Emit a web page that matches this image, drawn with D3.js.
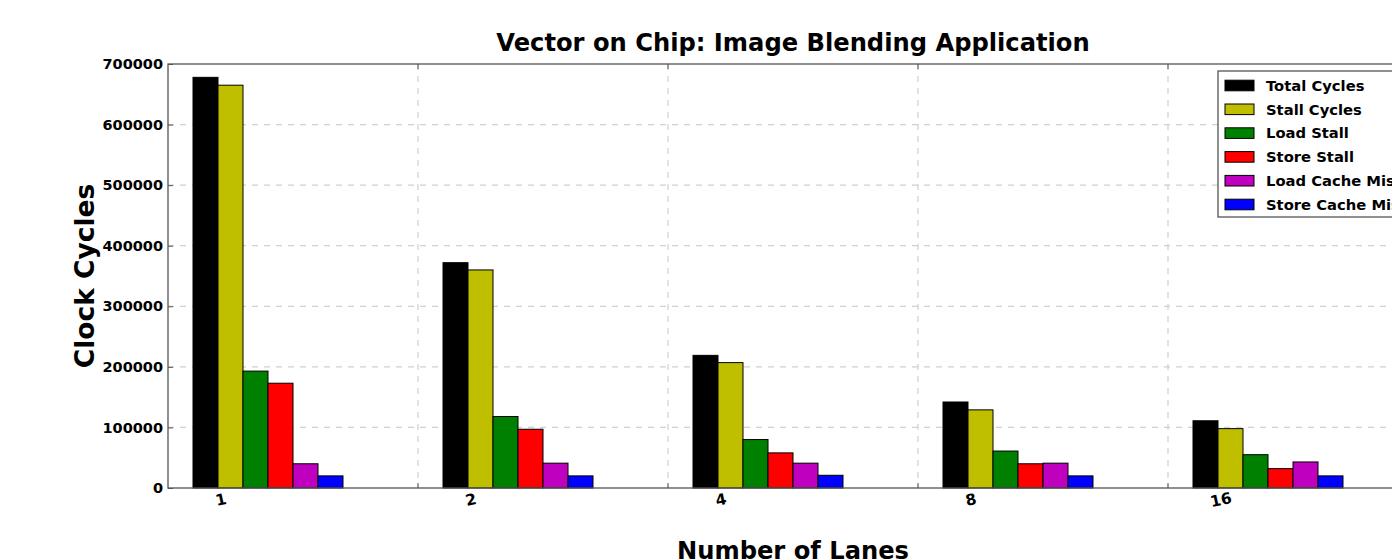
<!DOCTYPE html>
<html>
<head>
<meta charset="utf-8">
<script src="https://cdn.jsdelivr.net/npm/d3@7"></script>
<style>
  html, body { margin: 0; padding: 0; background: #fff; }
  svg text { font-family: "DejaVu Sans", sans-serif; font-weight: bold; }
</style>
</head>
<body>
<svg id="chart" width="1392" height="560"></svg>
<script>
// Lane counts along the x axis
const lanes = ["1", "2", "4", "8", "16"];
// Series names and fill colours
const seriesNames = ["Total Cycles", "Stall Cycles", "Load Stall", "Store Stall", "Load Cache Miss", "Store Cache Miss"];
const seriesColors = ["#000000", "#bfbf00", "#008000", "#ff0000", "#bf00bf", "#0000ff"];
// Cycle counts per lane count
const totalCycles     = [678000, 372000, 219000, 142000, 111000];
const stallCycles     = [665000, 360000, 207000, 129000,  98000];
const loadStall       = [193000, 118000,  80000,  61000,  55000];
const storeStall      = [173000,  97000,  58000,  40000,  32000];
const loadCacheMiss   = [ 40000,  41000,  41000,  41000,  43000];
const storeCacheMiss  = [ 20000,  20000,  21000,  20000,  20000];
const seriesValues = [totalCycles, stallCycles, loadStall, storeStall, loadCacheMiss, storeCacheMiss];
const yTicks = [0, 100000, 200000, 300000, 400000, 500000, 600000, 700000];

const svg = d3.select("#chart");
const plotLeft = 168, plotTop = 64, plotBottom = 488, plotRight = 1418;

const x = d3.scaleBand().domain(lanes).range([plotLeft, plotRight]).paddingInner(0).paddingOuter(0);
const xs = d3.scaleBand().domain(seriesNames).range([25, 175]).padding(0);
const y = d3.scaleLinear().domain([0, 700000]).range([plotBottom, plotTop]);

// grid
const grid = svg.append("g");
grid.selectAll("line.h").data(yTicks.slice(1, -1)).join("line")
  .attr("x1", plotLeft).attr("x2", plotRight)
  .attr("y1", d => y(d)).attr("y2", d => y(d))
  .attr("stroke", "#d0d0d0").attr("stroke-width", 1.2).attr("stroke-dasharray", "6,6");
grid.selectAll("line.v").data(lanes.slice(1)).join("line")
  .attr("x1", d => x(d)).attr("x2", d => x(d))
  .attr("y1", plotTop).attr("y2", plotBottom)
  .attr("stroke", "#d0d0d0").attr("stroke-width", 1.2).attr("stroke-dasharray", "6,6");

// bars
seriesNames.forEach((name, si) => {
  svg.append("g").selectAll("rect").data(lanes).join("rect")
    .attr("x", d => x(d) + xs(name))
    .attr("y", (d, i) => y(seriesValues[si][i]))
    .attr("width", xs.bandwidth())
    .attr("height", (d, i) => plotBottom - y(seriesValues[si][i]))
    .attr("fill", seriesColors[si])
    .attr("stroke", "#000").attr("stroke-width", 1);
});

// frame
svg.append("rect").attr("x", plotLeft).attr("y", plotTop)
  .attr("width", plotRight - plotLeft).attr("height", plotBottom - plotTop)
  .attr("fill", "none").attr("stroke", "#555").attr("stroke-width", 1.3);

// y axis
const yAxis = d3.axisLeft(y).tickValues(yTicks).tickFormat(d3.format("d")).tickSizeInner(-5).tickSizeOuter(0).tickPadding(5);
const gy = svg.append("g").attr("transform", `translate(${plotLeft},0)`).call(yAxis);
gy.select(".domain").remove();
gy.selectAll("line").attr("stroke", "#555");
gy.selectAll("text").attr("font-size", 14.5).attr("fill", "#000")
  .style("font-family", "'DejaVu Sans', sans-serif").style("font-weight", "bold");

// tick marks at group boundaries
svg.append("g").selectAll("line").data(lanes.slice(1)).join("line")
  .attr("x1", d => x(d)).attr("x2", d => x(d))
  .attr("y1", plotTop).attr("y2", plotTop + 5).attr("stroke", "#555");
svg.append("g").selectAll("line").data(lanes.slice(1)).join("line")
  .attr("x1", d => x(d)).attr("x2", d => x(d))
  .attr("y1", plotBottom).attr("y2", plotBottom - 5).attr("stroke", "#555");

// x tick labels
svg.append("g").selectAll("text").data(lanes).join("text")
  .attr("transform", d => `translate(${x(d) + 54},${505}) rotate(-12)`)
  .attr("text-anchor", "middle")
  .attr("font-size", 15.5).attr("fill", "#000")
  .text(d => d);

// title and axis labels
svg.append("text").attr("x", (plotLeft + plotRight) / 2).attr("y", 51)
  .attr("text-anchor", "middle").attr("font-size", 24.2).attr("fill", "#000")
  .text("Vector on Chip: Image Blending Application");
svg.append("text").attr("transform", `translate(94,${(plotTop + plotBottom) / 2}) rotate(-90)`)
  .attr("text-anchor", "middle").attr("font-size", 26.5).attr("fill", "#000")
  .text("Clock Cycles");
svg.append("text").attr("x", (plotLeft + plotRight) / 2).attr("y", 559)
  .attr("text-anchor", "middle").attr("font-size", 24.2).attr("fill", "#000")
  .text("Number of Lanes");

// legend
const lg = svg.append("g").attr("transform", "translate(1218,71)");
lg.append("rect").attr("x", 0).attr("y", 0).attr("width", 200).attr("height", 146)
  .attr("fill", "#fff").attr("stroke", "#555").attr("stroke-width", 1.3);
seriesNames.forEach((name, i) => {
  const ly = 14.5 + i * 23.8;
  lg.append("rect").attr("x", 7).attr("y", ly - 5.3).attr("width", 29).attr("height", 10.6)
    .attr("fill", seriesColors[i]).attr("stroke", "#000").attr("stroke-width", 1);
  lg.append("text").attr("x", 48).attr("y", ly + 5.2)
    .attr("font-size", 14.75).attr("fill", "#000").text(name);
});
</script>
</body>
</html>
